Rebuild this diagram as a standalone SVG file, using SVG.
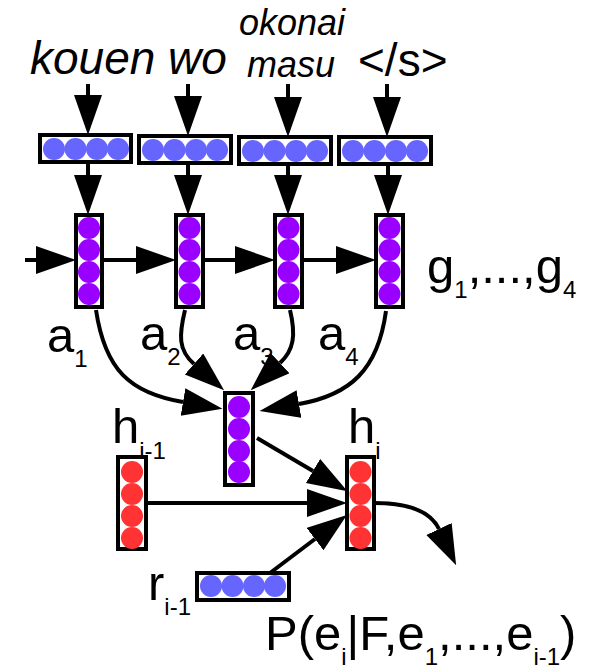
<svg xmlns="http://www.w3.org/2000/svg" width="590" height="669" viewBox="0 0 590 669">
<defs>
<style>
.box{fill:#fff;stroke:#000;stroke-width:4}
.b{fill:#6666ff}.p{fill:#9900ff}.r{fill:#ff3333}
.ln{fill:none;stroke:#000;stroke-width:4}
text{font-family:"Liberation Sans",Arial,sans-serif;fill:#000}
.big{font-size:49px}
.top{font-size:46px}
.it{font-style:italic}
.sub{font-size:24px}
</style>
<marker id="ah" markerUnits="userSpaceOnUse" markerWidth="42" markerHeight="30" refX="0" refY="14" orient="auto" viewBox="0 0 42 30">
<path d="M0,0 L40,14 L0,28 z" fill="#000"/>
</marker>
</defs>

<g id="labels-top">
<text class="top it" x="30" y="74">kouen wo</text>
<text class="it" x="239" y="35" font-size="36">okonai</text>
<text class="it" x="247" y="77" font-size="36">masu</text>
<text class="top" x="358" y="76">&lt;/s&gt;</text>
</g>

<g id="connectors">
<path class="ln" marker-end="url(#ah)" d="M88,84 L88,95"/>
<path class="ln" marker-end="url(#ah)" d="M188,84 L188,96"/>
<path class="ln" marker-end="url(#ah)" d="M288,84 L288,97"/>
<path class="ln" marker-end="url(#ah)" d="M387,84 L387,97"/>
<path class="ln" marker-end="url(#ah)" d="M88,162 L88,175"/>
<path class="ln" marker-end="url(#ah)" d="M188,163 L188,175"/>
<path class="ln" marker-end="url(#ah)" d="M288,164 L288,175"/>
<path class="ln" marker-end="url(#ah)" d="M388,164 L388,175"/>
<path class="ln" marker-end="url(#ah)" d="M25,260 L36,260"/>
<path class="ln" marker-end="url(#ah)" d="M102,260 L136,260"/>
<path class="ln" marker-end="url(#ah)" d="M203,260 L235,260"/>
<path class="ln" marker-end="url(#ah)" d="M303,260 L336,260"/>
<path class="ln" marker-end="url(#ah)" d="M96,310 C105,370 130,393 183,402"/>
<path class="ln" marker-end="url(#ah)" d="M185,310 C179,335 178,350 194,364"/>
<path class="ln" marker-end="url(#ah)" d="M290,310 C296,335 294,350 280,363"/>
<path class="ln" marker-end="url(#ah)" d="M386,311 C378,370 350,395 299,404"/>
<path class="ln" marker-end="url(#ah)" d="M257,438 L313,471"/>
<path class="ln" marker-end="url(#ah)" d="M146,503 L307,503"/>
<path class="ln" marker-end="url(#ah)" d="M270,573 L315,539"/>
<path class="ln" marker-end="url(#ah)" d="M374,503 C405,503 430,510 439,529"/>
</g>

<g id="e1"><rect class="box" x="40" y="135" width="91" height="27"/><circle class="b" cx="54" cy="149" r="11"/><circle class="b" cx="75.5" cy="149" r="11"/><circle class="b" cx="97" cy="149" r="11"/><circle class="b" cx="118" cy="149" r="11"/></g>
<g id="e2"><rect class="box" x="139" y="136" width="92" height="27"/><circle class="b" cx="153" cy="150" r="11"/><circle class="b" cx="174.5" cy="150" r="11"/><circle class="b" cx="196" cy="150" r="11"/><circle class="b" cx="217" cy="150" r="11"/></g>
<g id="e3"><rect class="box" x="239" y="137" width="92" height="27"/><circle class="b" cx="253" cy="151" r="11"/><circle class="b" cx="274.5" cy="151" r="11"/><circle class="b" cx="296" cy="151" r="11"/><circle class="b" cx="317" cy="151" r="11"/></g>
<g id="e4"><rect class="box" x="339" y="137" width="92" height="27"/><circle class="b" cx="353" cy="151" r="11"/><circle class="b" cx="374.5" cy="151" r="11"/><circle class="b" cx="396" cy="151" r="11"/><circle class="b" cx="417" cy="151" r="11"/></g>

<g id="g1"><rect class="box" x="76" y="215" width="26" height="92"/><circle class="p" cx="89" cy="228" r="11"/><circle class="p" cx="89" cy="250" r="11"/><circle class="p" cx="89" cy="272" r="11"/><circle class="p" cx="89" cy="294" r="11"/></g>
<g id="g2"><rect class="box" x="176" y="215" width="27" height="92"/><circle class="p" cx="189.5" cy="228" r="11"/><circle class="p" cx="189.5" cy="250" r="11"/><circle class="p" cx="189.5" cy="272" r="11"/><circle class="p" cx="189.5" cy="294" r="11"/></g>
<g id="g3"><rect class="box" x="275" y="215" width="27" height="92"/><circle class="p" cx="288.5" cy="228" r="11"/><circle class="p" cx="288.5" cy="250" r="11"/><circle class="p" cx="288.5" cy="272" r="11"/><circle class="p" cx="288.5" cy="294" r="11"/></g>
<g id="g4"><rect class="box" x="376" y="215" width="27" height="92"/><circle class="p" cx="389.5" cy="228" r="11"/><circle class="p" cx="389.5" cy="250" r="11"/><circle class="p" cx="389.5" cy="272" r="11"/><circle class="p" cx="389.5" cy="294" r="11"/></g>

<g id="labels-g">
<text class="big" x="427" y="283">g<tspan class="sub" dy="15">1</tspan><tspan dy="-15">,...,g</tspan><tspan class="sub" dy="15">4</tspan></text>
<text class="big" x="47" y="352">a<tspan class="sub" dy="15">1</tspan></text>
<text class="big" x="140" y="350">a<tspan class="sub" dy="15">2</tspan></text>
<text class="big" x="233" y="350">a<tspan class="sub" dy="15">3</tspan></text>
<text class="big" x="318" y="350">a<tspan class="sub" dy="15">4</tspan></text>
</g>

<g id="context"><rect class="box" x="225" y="393" width="28" height="92"/><circle class="p" cx="239" cy="407" r="11"/><circle class="p" cx="239" cy="429" r="11"/><circle class="p" cx="239" cy="451" r="11"/><circle class="p" cx="239" cy="472" r="11"/></g>

<g id="labels-h">
<text class="big" x="112" y="443">h<tspan class="sub" dy="16">i-1</tspan></text>
<text class="big" x="348" y="443">h<tspan class="sub" dy="16">i</tspan></text>
<text class="big" x="148" y="600">r<tspan class="sub" dy="15">i-1</tspan></text>
</g>

<g id="h-prev"><rect class="box" x="118" y="457" width="28" height="92"/><circle class="r" cx="132" cy="472" r="11"/><circle class="r" cx="132" cy="494" r="11"/><circle class="r" cx="132" cy="516" r="11"/><circle class="r" cx="132" cy="538" r="11"/></g>
<g id="h-cur"><rect class="box" x="347" y="457" width="27" height="92"/><circle class="r" cx="360.5" cy="472" r="11"/><circle class="r" cx="360.5" cy="494" r="11"/><circle class="r" cx="360.5" cy="516" r="11"/><circle class="r" cx="360.5" cy="538" r="11"/></g>
<g id="r-prev"><rect class="box" x="197" y="573" width="92" height="27"/><circle class="b" cx="211" cy="586" r="11"/><circle class="b" cx="232.5" cy="586" r="11"/><circle class="b" cx="254" cy="586" r="11"/><circle class="b" cx="275" cy="586" r="11"/></g>

<g id="output">
<text class="big" x="265" y="650">P(e<tspan class="sub" dy="15">i</tspan><tspan dy="-15">|F,e</tspan><tspan class="sub" dy="15">1</tspan><tspan dy="-15">,...,e</tspan><tspan class="sub" dy="15">i-1</tspan><tspan dy="-15">)</tspan></text>
</g>
</svg>
